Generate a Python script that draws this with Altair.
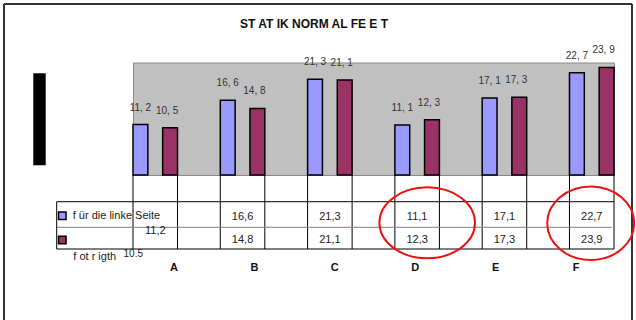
import altair as alt
import pandas as pd

# ---- data ----
categories = ["A", "B", "C", "D", "E", "F"]
left_values = [11.2, 16.6, 21.3, 11.1, 17.1, 22.7]
right_values = [10.5, 14.8, 21.1, 12.3, 17.3, 23.9]
series_keys = ["links", "rechts"]
series_names = ["f ür die linke Seite", "f ot r igth"]
series_colors = ["#9999FF", "#993366"]
title_text = "ST AT IK NORM AL FE E T"

rows = []
for key, vals in zip(series_keys, [left_values, right_values]):
    for c, v in zip(categories, vals):
        s = f"{v:.1f}"
        rows.append(dict(cat=c, series=key, value=v,
                         label=s.replace(".", ", "),
                         cell=s.replace(".", ","),
                         raw=s))
df = pd.DataFrame(rows)
cat_df = pd.DataFrame({"cat": categories})
leg_df = pd.DataFrame({"series": series_keys, "name": series_names})
one = pd.DataFrame({"t": [title_text]})

FONT = "Liberation Sans"
TXT = "#222222"

def X(**kw):
    return alt.X("cat:N", scale=alt.Scale(domain=categories, paddingInner=0.49, paddingOuter=0),
                 axis=None, **kw)

XO = alt.XOffset("series:N", scale=alt.Scale(domain=series_keys, paddingInner=0.5, paddingOuter=0))
Y = alt.Y("value:Q", scale=alt.Scale(domain=[0, 25], nice=False, zero=True), axis=None)
C = alt.Color("series:N", scale=alt.Scale(domain=series_keys, range=series_colors), legend=None)

base = alt.Chart(df)

bars = base.mark_bar(stroke="black", strokeWidth=1.5).encode(x=X(), xOffset=XO, y=Y, color=C)

lab_l = base.transform_filter(alt.datum.series == "links").mark_text(
    dy=-17, fontSize=10, font=FONT, color="#333333").encode(x=X(), xOffset=XO, y=Y, text="label:N")
lab_r = base.transform_filter(alt.datum.series == "rechts").mark_text(
    dy=-17, dx=-3, fontSize=10, font=FONT, color="#333333").encode(x=X(), xOffset=XO, y=Y, text="label:N")

# table vertical lines at group edges
v0 = alt.Chart(cat_df).mark_rule(color="black", strokeWidth=1).encode(
    x=X(bandPosition=0), y=alt.value(112.5), y2=alt.value(186.5))
v1 = alt.Chart(cat_df).mark_rule(color="black", strokeWidth=1).encode(
    x=X(bandPosition=1), y=alt.value(112.5), y2=alt.value(186.5))

oc = alt.Chart(one)
h_top = oc.mark_rule(color="black", strokeWidth=1).encode(
    x=alt.value(-76.3), x2=alt.value(481), y=alt.value(139.2))
h_mid = oc.mark_rule(color="#808080", strokeWidth=1).encode(
    x=alt.value(-76.3), x2=alt.value(479), y=alt.value(164.8))
h_bot = oc.mark_rule(color="black", strokeWidth=1).encode(
    x=alt.value(-76.3), x2=alt.value(481), y=alt.value(186.5))
v_left = oc.mark_rule(color="black", strokeWidth=1).encode(
    x=alt.value(-76.3), y=alt.value(139.2), y2=alt.value(186.5))

# table cells
cell_l = base.transform_filter((alt.datum.series == "links") & (alt.datum.cat != "A")).mark_text(
    fontSize=11, font=FONT, color=TXT).encode(x=X(), y=alt.value(154), text="cell:N")
cell_r = base.transform_filter((alt.datum.series == "rechts") & (alt.datum.cat != "A")).mark_text(
    fontSize=11, font=FONT, color=TXT).encode(x=X(), y=alt.value(177.5), text="cell:N")
cell_la = base.transform_filter((alt.datum.series == "links") & (alt.datum.cat == "A")).mark_text(
    fontSize=11, font=FONT, color=TXT).encode(x=X(), y=alt.value(168.5), text="cell:N")
cell_ra = base.transform_filter((alt.datum.series == "rechts") & (alt.datum.cat == "A")).mark_text(
    fontSize=10, font=FONT, color=TXT, dx=-22).encode(x=X(), y=alt.value(191.5), text="raw:N")

# legend keys and labels
lc = alt.Chart(leg_df)
sq1 = lc.transform_filter(alt.datum.series == "links").mark_square(
    size=56, filled=True, stroke="black", strokeWidth=1.5, opacity=1).encode(
    x=alt.value(-70.7), y=alt.value(153.2), color=C)
sq2 = lc.transform_filter(alt.datum.series == "rechts").mark_square(
    size=56, filled=True, stroke="black", strokeWidth=1.5, opacity=1).encode(
    x=alt.value(-70.7), y=alt.value(177.5), color=C)
lt1 = lc.transform_filter(alt.datum.series == "links").mark_text(
    align="left", fontSize=11, font=FONT, color=TXT).encode(
    x=alt.value(-60.3), y=alt.value(153.5), text="name:N")
lt2 = lc.transform_filter(alt.datum.series == "rechts").mark_text(
    align="left", fontSize=11, font=FONT, color=TXT).encode(
    x=alt.value(-59.7), y=alt.value(194), text="name:N")

# decorations: frame, black bar, title, ellipses
frame_top = oc.mark_rule(color="#333333", strokeWidth=2).encode(
    x=alt.value(-129), x2=alt.value(499), y=alt.value(-58.5))
frame_left = oc.mark_rule(color="#333333", strokeWidth=2).encode(
    x=alt.value(-129), y=alt.value(-58.5), y2=alt.value(260))
frame_right = oc.mark_rule(color="#333333", strokeWidth=2).encode(
    x=alt.value(499), y=alt.value(-58.5), y2=alt.value(260))
black_bar = oc.mark_rect(color="black").encode(
    x=alt.value(-99.7), x2=alt.value(-87.3), y=alt.value(10.8), y2=alt.value(102.8))
title = oc.mark_text(fontSize=12, fontWeight="bold", font=FONT, color="#111111").encode(
    x=alt.value(181), y=alt.value(-38.5), text="t:N")

def ellipse_path(a):
    k = 0.5523
    return (f"M {-a} 0 C {-a} {-k} {-k*a} -1 0 -1 C {k*a} -1 {a} {-k} {a} 0 "
            f"C {a} {k} {k*a} 1 0 1 C {-k*a} 1 {-a} {k} {-a} 0 Z")

ell1 = oc.mark_point(shape=ellipse_path(1.346), filled=False, stroke="#ee1111",
                     strokeWidth=2, size=5041, opacity=1).encode(
    x=alt.value(294.2), y=alt.value(160.3))
ell2 = oc.mark_point(shape=ellipse_path(1.185), filled=False, stroke="#ee1111",
                     strokeWidth=2, size=5388, opacity=1).encode(
    x=alt.value(457.7), y=alt.value(160.8))

main = alt.layer(bars, lab_l, lab_r, v0, v1, h_top, h_mid, h_bot, v_left,
                 cell_l, cell_r, cell_la, cell_ra, sq1, sq2, lt1, lt2,
                 frame_top, frame_left, frame_right, black_bar, title, ell1, ell2)

cat_labels = alt.Chart(cat_df).mark_text(fontSize=11, fontWeight="bold", font=FONT, color="#111111").encode(
    x=alt.X("cat:N", scale=alt.Scale(type="point", domain=categories, range=[41, 443], padding=0), axis=None),
    y=alt.value(205), text="cat:N")

chart = alt.layer(main, cat_labels).resolve_scale(x="independent").properties(
    width=481, height=112.5, autosize="none",
    padding={"left": 133, "top": 62.5, "right": 22, "bottom": 145},
    background="white",
).configure_view(fill="#C0C0C0", stroke="#8a8a8a", strokeWidth=1)

chart.save("out.html", embed_options={"renderer": "svg", "actions": False})
